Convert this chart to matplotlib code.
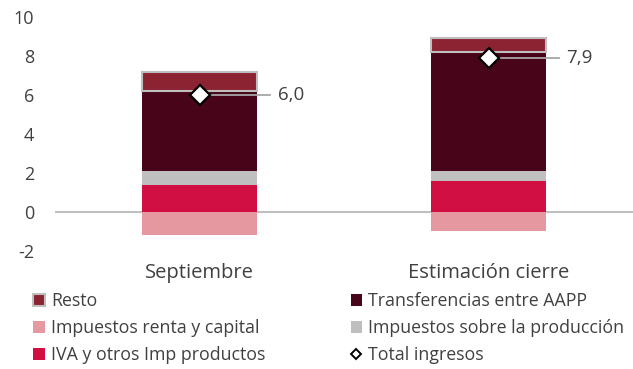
import matplotlib
matplotlib.use("Agg")
import matplotlib.pyplot as plt
import numpy as np

plt.rcParams['font.family'] = ['Open Sans', 'DejaVu Sans']

categories = ["Septiembre", "Estimación cierre"]
impuestos_renta = [-1.2, -1.0]
iva = [1.4, 1.6]
impuestos_produccion = [0.7, 0.5]
transferencias = [4.1, 6.1]
resto = [1.0, 0.7]
total = [6.0, 7.9]
total_labels = ["6,0", "7,9"]
yticks = [-2, 0, 2, 4, 6, 8, 10]

c_resto = "#8B2332"
c_transf = "#480519"
c_renta = "#E5989F"
c_prod = "#BFBFBF"
c_iva = "#D10F42"
text_c = "#404040"

fig = plt.figure(figsize=(6.33, 3.69), dpi=100)
ax = fig.add_axes([0.087, 0.32, 0.913, 0.634])

x = np.arange(len(categories))
w = 0.4

ax.axhline(0, color="#BFBFBF", lw=1.5, zorder=1)

b_renta = ax.bar(x, impuestos_renta, w, color=c_renta, zorder=2)
b_iva = ax.bar(x, iva, w, color=c_iva, zorder=2)
bottom = np.array(iva)
b_prod = ax.bar(x, impuestos_produccion, w, bottom=bottom, color=c_prod, zorder=2)
bottom = bottom + np.array(impuestos_produccion)
b_transf = ax.bar(x, transferencias, w, bottom=bottom, color=c_transf, zorder=2)
bottom = bottom + np.array(transferencias)
b_resto = ax.bar(x, resto, w, bottom=bottom, color=c_resto,
                 edgecolor="#BFBFBF", linewidth=1.5, zorder=2)

# leader lines and value labels for the total
for xi, t, lab in zip(x, total, total_labels):
    ax.plot([xi, xi + 0.245], [t, t], color="#A6A6A6", lw=1.3, zorder=3)
    ax.text(xi + 0.27, t, lab, va="center", ha="left", fontsize=13.5, color=text_c)

tot_line, = ax.plot(x, total, linestyle="none", marker="D", markersize=10,
                    markerfacecolor="white", markeredgecolor="black",
                    markeredgewidth=1.6, zorder=4)

ax.set_xlim(-0.5, 1.5)
ax.set_ylim(-2, 10)
ax.set_yticks(yticks)
ax.set_yticklabels([str(v) for v in yticks])
ax.set_xticks(x)
ax.set_xticklabels(categories)
for s in ax.spines.values():
    s.set_visible(False)
ax.tick_params(axis="x", length=0, labelsize=14.5, colors=text_c, pad=9)
ax.tick_params(axis="y", length=0, labelsize=13, colors=text_c, pad=15)

legend_tot = plt.Line2D([], [], linestyle="none", marker="D", markersize=5.5,
                        markerfacecolor="white", markeredgecolor="black",
                        markeredgewidth=1.4)
handles = [b_resto, b_renta, b_iva, b_transf, b_prod, legend_tot]
labels = ["Resto", "Impuestos renta y capital", "IVA y otros Imp productos",
          "Transferencias entre AAPP", "Impuestos sobre la producción",
          "Total ingresos"]
leg = fig.legend(handles, labels, ncol=2, loc="lower left",
                 bbox_to_anchor=(0.027, -0.03), frameon=False, fontsize=12.8,
                 handlelength=0.65, handleheight=0.65, handletextpad=0.35,
                 columnspacing=4.8, labelspacing=0.5, labelcolor=text_c)

fig.savefig("out.png", dpi=100)
